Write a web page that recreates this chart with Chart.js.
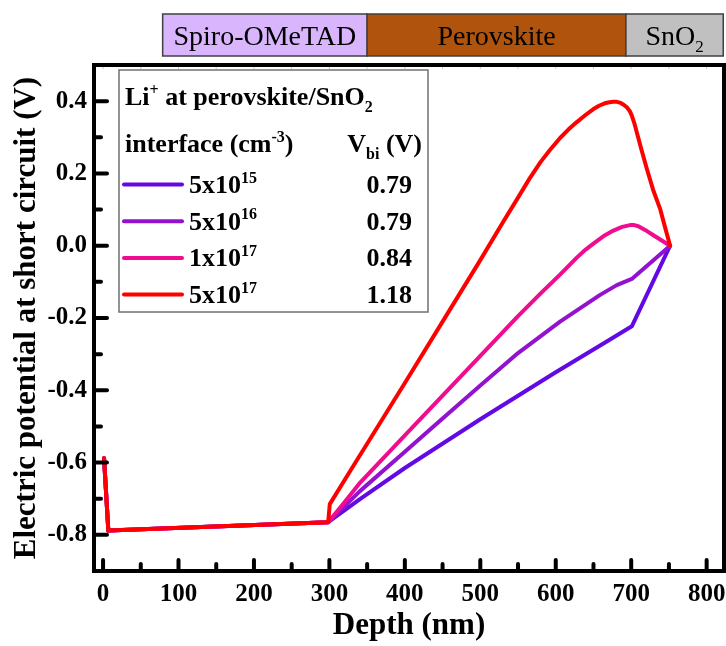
<!DOCTYPE html>
<html>
<head>
<meta charset="utf-8">
<script src="https://cdn.jsdelivr.net/npm/chart.js@4.4.0/dist/chart.umd.min.js"></script>
<style>
  html, body { margin: 0; padding: 0; background: #fff; }
  .chart-container { position: relative; width: 726px; height: 646px; }
</style>
</head>
<body>
<div class="chart-container">
  <canvas id="potentialChart" width="726" height="646"></canvas>
</div>

<script>
const SERIF = '"Liberation Serif", "Times New Roman", serif';

// axis ticks
const xMajorTicks = [0, 100, 200, 300, 400, 500, 600, 700, 800];
const xMinorTicks = [50, 150, 250, 350, 450, 550, 650, 750];
const yMajorTicks = [-0.8, -0.6, -0.4, -0.2, 0, 0.2, 0.4];
const yMinorTicks = [-0.7, -0.5, -0.3, -0.1, 0.1, 0.3];

// device stack drawn above the plot (depth in nm)
const layerNames = ['Spiro-OMeTAD', 'Perovskite', 'SnO'];
const layerSubs = ['', '', '2'];
const layerEdges = [79, 350, 693, 822];
const layerColors = ['#d9b5fd', '#b0530c', '#c0c0c0'];

// shared part: spiro-OMeTAD region, same for every doping level
const spiroDepth = [1.3, 7, 298.4];
const spiroPotential = [-0.588, -0.788, -0.765];

// perovskite + SnO2 region for each Li+ concentration
const depth5e15 = [340.5, 400, 500, 600, 667.6, 700.8, 751.6];
const potential5e15 = [-0.701, -0.615, -0.48, -0.35, -0.265, -0.223, 0.0];

const depth5e16 = [340.5, 400, 450, 500, 550, 605.7, 658.8, 680.9, 700.8, 751.6];
const potential5e16 = [-0.679, -0.570, -0.478, -0.387, -0.297, -0.21, -0.136, -0.109, -0.092, 0.0];

const depth1e17 = [320, 340.5, 400, 450, 500, 550, 580, 605.7, 627.9, 640, 649.9, 663, 676.4, 688, 698.5, 704, 709.5, 719, 729.4, 740, 751.6];
const potential1e17 = [-0.71, -0.656, -0.525, -0.415, -0.305, -0.195, -0.132, -0.08, -0.033, -0.01, 0.006, 0.026, 0.042, 0.052, 0.057, 0.057, 0.054, 0.043, 0.029, 0.015, 0.0];

const depth5e17 = [300.5, 330, 350, 400, 450, 500, 530, 550, 565, 580, 592, 605.7, 617, 627.9, 639, 649.9, 658, 665, 671, 676.4, 681, 686, 690, 694.2, 698, 700.8, 704, 707.4, 714, 720.7, 729, 738.3, 745, 751.6];
const potential5e17 = [-0.715, -0.615, -0.548, -0.38, -0.21, -0.04, 0.065, 0.133, 0.185, 0.232, 0.264, 0.298, 0.322, 0.342, 0.361, 0.378, 0.388, 0.394, 0.397, 0.398, 0.398, 0.395, 0.39, 0.383, 0.373, 0.36, 0.34, 0.314, 0.263, 0.213, 0.155, 0.102, 0.05, 0.0];

// legend entries
const concMantissa = ['5x10', '5x10', '1x10', '5x10'];
const concExponent = ['15', '16', '17', '17'];
const vbiValues = ['0.79', '0.79', '0.84', '1.18'];
const seriesColors = ['#6209e4', '#9312cf', '#f00c8f', '#ff0000'];

function toPoints(xs, ys) {
    return xs.map((x, i) => ({ x: x, y: ys[i] }));
}

const seriesDepths = [depth5e15, depth5e16, depth1e17, depth5e17];
const seriesPotentials = [potential5e15, potential5e16, potential1e17, potential5e17];

const datasets = seriesDepths.map((d, i) => ({
    label: concMantissa[i] + concExponent[i],
    data: toPoints(spiroDepth, spiroPotential).concat(toPoints(d, seriesPotentials[i])),
    borderColor: seriesColors[i],
    backgroundColor: seriesColors[i],
    borderWidth: 4,
    pointRadius: 0,
    fill: false,
    tension: 0,
    borderJoinStyle: 'round',
    borderCapStyle: 'round',
    order: 3 - i
}));

// text with superscript / subscript runs
function drawRuns(ctx, runs, x, y, size, weight, align) {
    const fontFor = m => `${weight} ${m ? Math.round(size * 0.6) : size}px ${SERIF}`;
    let total = 0;
    runs.forEach(([t, m]) => { ctx.font = fontFor(m); total += ctx.measureText(t).width; });
    let cx = align === 'right' ? x - total : (align === 'center' ? x - total / 2 : x);
    ctx.textAlign = 'left';
    runs.forEach(([t, m]) => {
        ctx.font = fontFor(m);
        const dy = m === 'sup' ? -size * 0.4 : (m === 'sub' ? size * 0.25 : 0);
        ctx.fillText(t, cx, y + dy);
        cx += ctx.measureText(t).width;
    });
}

const framePlugin = {
    id: 'frameAndLegend',
    afterDatasetsDraw(chart) {
        const ctx = chart.ctx;
        const area = chart.chartArea;
        const xs = chart.scales.x, ys = chart.scales.y;
        ctx.save();

        // inward tick marks
        ctx.strokeStyle = '#000';
        ctx.lineWidth = 4;
        ctx.lineCap = 'round';
        const tick = (x1, y1, x2, y2) => { ctx.beginPath(); ctx.moveTo(x1, y1); ctx.lineTo(x2, y2); ctx.stroke(); };
        xMajorTicks.forEach(v => { const p = xs.getPixelForValue(v); tick(p, area.bottom, p, area.bottom - 11); });
        xMinorTicks.forEach(v => { const p = xs.getPixelForValue(v); tick(p, area.bottom, p, area.bottom - 7); });
        yMajorTicks.forEach(v => { const p = ys.getPixelForValue(v); tick(area.left, p, area.left + 13, p); });
        yMinorTicks.forEach(v => { const p = ys.getPixelForValue(v); tick(area.left, p, area.left + 7, p); });

        // faint ticks along the top edge
        ctx.strokeStyle = '#c8c8c8';
        ctx.lineWidth = 1;
        ctx.lineCap = 'butt';
        xMajorTicks.concat(xMinorTicks).forEach(v => { const p = xs.getPixelForValue(v); tick(p, area.top, p, area.top + 4); });

        // plot frame
        ctx.strokeStyle = '#000';
        ctx.lineWidth = 4;
        ctx.lineJoin = 'miter';
        ctx.strokeRect(area.left, area.top, area.right - area.left, area.bottom - area.top);

        // legend box
        const lx = 119, ly = 70, lw = 309, lh = 242;
        ctx.fillStyle = '#fff';
        ctx.fillRect(lx, ly, lw, lh);
        ctx.strokeStyle = '#707070';
        ctx.lineWidth = 1.5;
        ctx.strokeRect(lx, ly, lw, lh);

        ctx.fillStyle = '#000';
        ctx.textBaseline = 'alphabetic';
        drawRuns(ctx, [['Li', ''], ['+', 'sup'], [' at perovskite/SnO', ''], ['2', 'sub']], 125, 105, 26, 'bold', 'left');
        drawRuns(ctx, [['interface (cm', ''], ['-3', 'sup'], [')', '']], 125, 152, 26, 'bold', 'left');
        drawRuns(ctx, [['V', ''], ['bi', 'sub'], [' (V)', '']], 422, 152, 26, 'bold', 'right');

        concMantissa.forEach((m, i) => {
            const base = 193 + i * 36.7;
            ctx.strokeStyle = seriesColors[i];
            ctx.lineWidth = 4;
            ctx.lineCap = 'round';
            tick(124, base - 8.5, 182, base - 8.5);
            ctx.fillStyle = '#000';
            drawRuns(ctx, [[m, ''], [concExponent[i], 'sup']], 189, base, 26, 'bold', 'left');
            drawRuns(ctx, [[vbiValues[i], '']], 412, base, 26, 'bold', 'right');
        });
        ctx.restore();
    },
    afterDraw(chart) {
        // layer stack above the plot
        const ctx = chart.ctx;
        const xs = chart.scales.x;
        ctx.save();
        layerNames.forEach((name, i) => {
            const x1 = xs.getPixelForValue(layerEdges[i]);
            const x2 = xs.getPixelForValue(layerEdges[i + 1]);
            ctx.fillStyle = layerColors[i];
            ctx.fillRect(x1, 14, x2 - x1, 42);
            ctx.strokeStyle = '#404040';
            ctx.lineWidth = 1.5;
            ctx.strokeRect(x1, 14, x2 - x1, 42);
            ctx.fillStyle = '#000';
            const runs = [[name, '']];
            if (layerSubs[i]) runs.push([layerSubs[i], 'sub']);
            drawRuns(ctx, runs, (x1 + x2) / 2, 45, 28, 'normal', 'center');
        });
        ctx.restore();
    }
};

const ctx = document.getElementById('potentialChart').getContext('2d');
const chart = new Chart(ctx, {
    type: 'line',
    data: { datasets: datasets },
    options: {
        responsive: false,
        animation: false,
        devicePixelRatio: 1,
        layout: { padding: { top: 65, right: 2, left: 0, bottom: 0 } },
        plugins: { legend: { display: false }, tooltip: { enabled: false } },
        scales: {
            x: {
                type: 'linear',
                min: -12,
                max: 823,
                afterBuildTicks: scale => { scale.ticks = xMajorTicks.map(v => ({ value: v })); },
                afterFit: scale => { scale.height = 75; scale.paddingLeft = 0; scale.paddingRight = 0; },
                grid: { display: false, drawTicks: false },
                border: { display: false },
                ticks: {
                    color: '#000',
                    padding: 9,
                    maxRotation: 0,
                    autoSkip: false,
                    font: { family: SERIF, size: 25, weight: 'bold' },
                    callback: v => String(v)
                },
                title: {
                    display: true,
                    text: 'Depth (nm)',
                    color: '#000',
                    font: { family: SERIF, size: 31, weight: 'bold' },
                    padding: { top: 0, bottom: 1 }
                }
            },
            y: {
                type: 'linear',
                min: -0.9,
                max: 0.5,
                afterBuildTicks: scale => { scale.ticks = yMajorTicks.map(v => ({ value: v })); },
                afterFit: scale => { scale.width = 94; scale.paddingTop = 0; scale.paddingBottom = 0; },
                grid: { display: false, drawTicks: false },
                border: { display: false },
                ticks: {
                    color: '#000',
                    padding: 7,
                    autoSkip: false,
                    font: { family: SERIF, size: 25, weight: 'bold' },
                    callback: v => Number(v).toFixed(1)
                },
                title: {
                    display: true,
                    text: 'Electric potential at short circuit (V)',
                    color: '#000',
                    font: { family: SERIF, size: 31, weight: 'bold' },
                    padding: { top: 8, bottom: 0 }
                }
            }
        }
    },
    plugins: [framePlugin]
});
</script>
</body>
</html>
